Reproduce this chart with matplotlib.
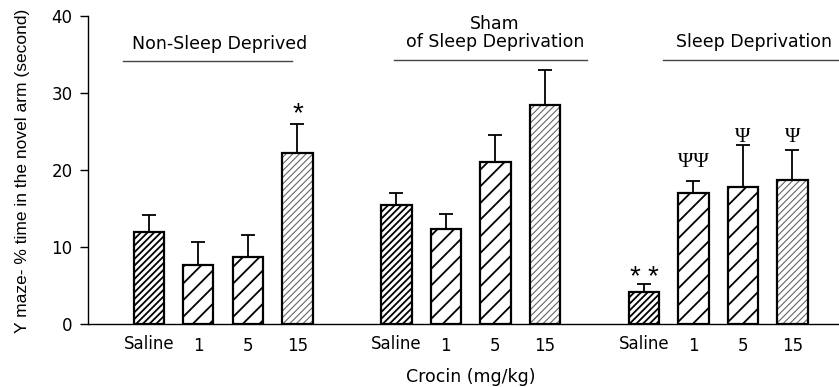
import matplotlib
matplotlib.use("Agg")
import matplotlib.pyplot as plt

plt.rcParams["font.family"] = ["DejaVu Sans"]
plt.rcParams["hatch.linewidth"] = 1.3

# Data
groups = ["Non-Sleep Deprived", "Sham\nof Sleep Deprivation", "Sleep Deprivation"]
doses = ["Saline", "1", "5", "15"]
means = [
    [12.0, 7.6, 8.7, 22.2],
    [15.5, 12.3, 21.1, 28.5],
    [4.1, 17.05, 17.8, 18.7],
]
errors = [
    [2.2, 3.0, 2.8, 3.8],
    [1.5, 2.0, 3.5, 4.5],
    [1.1, 1.55, 5.4, 3.9],
]
marks = [
    ["", "", "", "*"],
    ["", "", "", ""],
    ["**", "ΨΨ", "Ψ", "Ψ"],
]
# baseline height of each significance mark
mark_y = [
    [0, 0, 0, 26.4],
    [0, 0, 0, 0],
    [5.2, 20.4, 23.6, 23.6],
]

hatches = ["/////", "//", "//", "/////"]
hatch_colors = ["black", "black", "black", "#666666"]
hatch_widths = [1.3, 1.3, 1.3, 0.8]

fig = plt.figure(figsize=(8.39, 3.87), dpi=100)
ax = fig.add_axes([88 / 839, 1 - 324 / 387, 1 - 88 / 839, (324 - 16) / 387])

for g in range(len(groups)):
    for d in range(len(doses)):
        x = g * 5 + d
        bars = ax.bar(x, means[g][d], width=0.61, facecolor="white", edgecolor=hatch_colors[d],
                      hatch=hatches[d], linewidth=0, zorder=2)
        for p in bars:
            if hasattr(p, "set_hatch_linewidth"):
                p.set_hatch_linewidth(hatch_widths[d])
        ax.bar(x, means[g][d], width=0.61, facecolor="none", edgecolor="black",
               linewidth=1.6, zorder=3)
        ax.errorbar(x, means[g][d], yerr=[[0], [errors[g][d]]], color="black",
                    capsize=5, capthick=1.3, elinewidth=1.3, zorder=1)
        m = marks[g][d]
        if m.startswith("*"):
            # stars are drawn a bit apart, as in the original
            n = len(m)
            for k, ch in enumerate(m):
                ax.text(x + (k - (n - 1) / 2) * 0.36, mark_y[g][d], ch, ha="center",
                        va="baseline", fontsize=20, family="Liberation Sans")
        elif m:
            ax.text(x, mark_y[g][d], m, ha="center", va="baseline", fontsize=15,
                    family="Liberation Serif")
        ylab = -1.45 if doses[d] == "Saline" else -1.75
        ax.text(x, ylab, doses[d], ha="center", va="top", fontsize=12)

# group headers: underline spans and text centres (data units)
header_lines = [(-0.53, 2.9, 34.1), (4.96, 8.85, 34.3), (10.38, 14.0, 34.3)]
header_x = [1.43, 6.99, 12.22]
header_y = [35.2, 35.4, 35.4]
for g, (x0, x1, yl) in enumerate(header_lines):
    ax.plot([x0, x1], [yl, yl], color="#444444", lw=1.0, clip_on=False)
    ax.text(header_x[g], header_y[g], groups[g], ha="center", va="bottom",
            fontsize=12.5, linespacing=1.05)

ax.set_xlim(-1.23, 13.94)
ax.set_ylim(0, 40)
ax.set_yticks([0, 10, 20, 30, 40])
ax.set_xticks([])
ax.tick_params(axis="y", direction="out", length=6, width=1.0, labelsize=12, pad=5)
for s in ["top", "right"]:
    ax.spines[s].set_visible(False)
ax.spines["left"].set_linewidth(1.0)
ax.spines["bottom"].set_linewidth(1.0)

fig.text(471 / 839, 1 - 377 / 387, "Crocin (mg/kg)", ha="center", va="center", fontsize=12.5)
fig.text(23 / 839, 1 - 171 / 387, "Y maze- % time in the novel arm (second)", rotation=90,
         ha="center", va="center", fontsize=12.5, family="Liberation Sans")

fig.savefig("out.png", dpi=100)
